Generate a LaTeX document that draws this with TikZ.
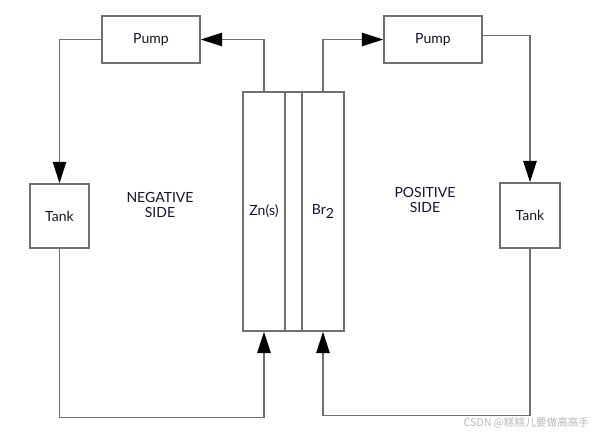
\documentclass[tikz,border=0pt]{standalone}
\usepackage{fontspec}
\setmainfont{Lato}
\newfontfamily\cjkfont{Noto Sans CJK SC}
\usetikzlibrary{arrows.meta}
\definecolor{linegray}{RGB}{112,112,112}
\definecolor{txt}{RGB}{20,20,40}
\definecolor{wm}{RGB}{185,185,185}
\begin{document}
\begin{tikzpicture}[x=0.75pt,y=-0.75pt,
  box/.style={draw=linegray,line width=1.1pt,rectangle,inner sep=0pt,text=txt,font=\fontsize{10.5}{12}\selectfont},
  lbl/.style={text=txt,font=\fontsize{10.5}{11.5}\selectfont,align=center},
  arr/.style={draw=linegray,line width=1.1pt,-{Triangle[length=16pt,width=10pt,fill=black,color=black]}}]
\useasboundingbox (0,0) rectangle (600,435);
% pumps and tanks
\node[box,minimum width=73.5pt,minimum height=35.25pt] (pumpL) at (151,39.5) {Pump};
\node[box,minimum width=73.5pt,minimum height=35.25pt] (pumpR) at (433,39.5) {Pump};
\node[box,minimum width=44.25pt,minimum height=48pt] (tankL) at (59.5,216) {Tank};
\node[box,minimum width=45pt,minimum height=48.75pt] (tankR) at (530,215.5) {Tank};
% cell
\node[box,minimum width=31.5pt,minimum height=179.25pt] (znCell) at (264,211.5) {Zn(s)};
\node[box,minimum width=12.75pt,minimum height=179.25pt] (mem) at (293.5,211.5) {};
\node[box,minimum width=31.5pt,minimum height=179.25pt] (brCell) at (323,211.5) {Br\raisebox{-0.6ex}{2}};
% side labels
\node[lbl] (neg) at (160,205) {NEGATIVE\\SIDE};
\node[lbl] (pos) at (425,200) {POSITIVE\\SIDE};
% connectors
\draw[arr] (znCell.north) |- (pumpL.east);
\draw[arr] (pumpL.west) -| (tankL.north);
\draw[arr] (tankL.south) -- ++(0,169) -| (znCell.south);
\draw[arr] (brCell.north) |- (pumpR.west);
\draw[arr] ([yshift=3pt]pumpR.east) -| (tankR.north);
\draw[arr] (tankR.south) -- ++(0,167) -| (brCell.south);
% watermark
\node[text=wm,font=\cjkfont\fontsize{8}{9}\selectfont,anchor=east] (mark) at (594,423) {CSDN @糕糕儿要做高高手};
\end{tikzpicture}
\end{document}
